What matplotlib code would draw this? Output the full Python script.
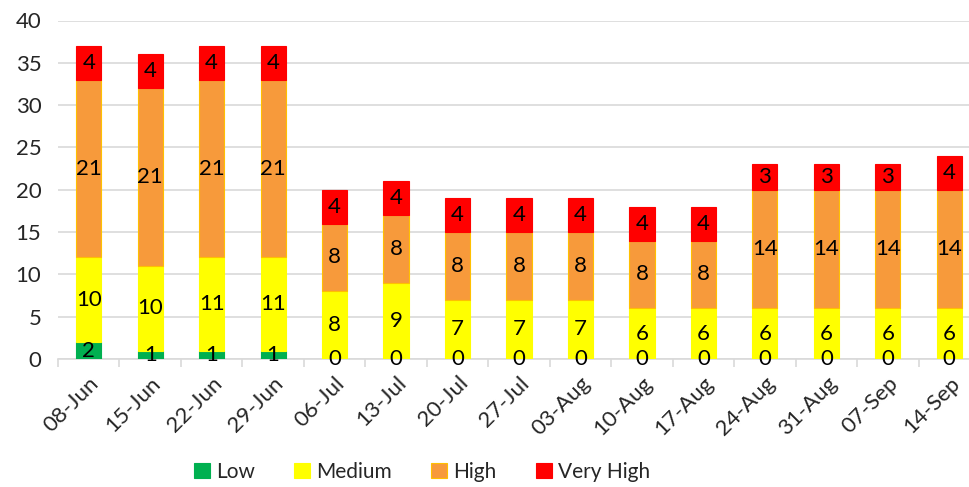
import numpy as np
import matplotlib
matplotlib.use('Agg')
import matplotlib.pyplot as plt

plt.rcParams['font.family'] = ['Lato', 'DejaVu Sans']

dates = ['08-Jun', '15-Jun', '22-Jun', '29-Jun', '06-Jul', '13-Jul', '20-Jul', '27-Jul',
         '03-Aug', '10-Aug', '17-Aug', '24-Aug', '31-Aug', '07-Sep', '14-Sep']
low = [2, 1, 1, 1, 0, 0, 0, 0, 0, 0, 0, 0, 0, 0, 0]
medium = [10, 10, 11, 11, 8, 9, 7, 7, 7, 6, 6, 6, 6, 6, 6]
high = [21, 21, 21, 21, 8, 8, 8, 8, 8, 8, 8, 14, 14, 14, 14]
very_high = [4, 4, 4, 4, 4, 4, 4, 4, 4, 4, 4, 3, 3, 3, 4]

series = [('Low', low, '#00B050', '#00B050'),
          ('Medium', medium, '#FFFF00', '#FFFF00'),
          ('High', high, '#F79A3B', '#FFC000'),
          ('Very High', very_high, '#FF0000', '#FF0000')]

fig = plt.figure(figsize=(9.7, 4.87), dpi=100)
ax = fig.add_axes([58/970, 128/487, 922/970, 338.5/487])

x = np.arange(len(dates))
bottom = np.zeros(len(dates))
for name, vals, col, edge in series:
    vals = np.array(vals, dtype=float)
    ax.bar(x, vals, 0.41, bottom=bottom, color=col, edgecolor=edge, linewidth=0.8,
           label=name, zorder=3)
    # labels sit in the middle of each segment (zeros end up on the axis)
    for xi, b, v in zip(x, bottom, vals):
        ax.text(xi, b + v / 2, '%d' % v, ha='center', va='center',
                fontsize=16, color='#000000', zorder=4)
    bottom += vals

ax.set_xlim(-0.5, len(dates) - 0.5)
ax.set_ylim(0, 40)
ax.set_yticks(range(0, 41, 5))
ax.yaxis.grid(True, color='#D9D9D9', linewidth=1.2, zorder=0)
ax.set_axisbelow(True)
for s in ['top', 'right', 'left']:
    ax.spines[s].set_visible(False)
ax.spines['bottom'].set_color('#D9D9D9')
ax.spines['bottom'].set_linewidth(1.2)
ax.tick_params(axis='y', length=0, labelsize=16, labelcolor='#262626', pad=12)
ax.set_xticks(x)
ax.set_xticklabels(dates, rotation=45, ha='right', rotation_mode='anchor',
                   fontsize=16, color='#262626')
ax.tick_params(axis='x', which='major', length=0, pad=10)
ax.set_xticks(np.arange(-0.5, len(dates), 1), minor=True)
ax.tick_params(axis='x', which='minor', length=6, color='#D9D9D9', width=1.2)

leg = fig.legend(loc='center', bbox_to_anchor=(422/970, 1 - 472/487), ncol=4,
                 frameon=False, fontsize=15, handlelength=0.75, handleheight=0.75,
                 handletextpad=0.3, columnspacing=1.9)
for t in leg.get_texts():
    t.set_color('#262626')

fig.savefig('out.png', dpi=100)
